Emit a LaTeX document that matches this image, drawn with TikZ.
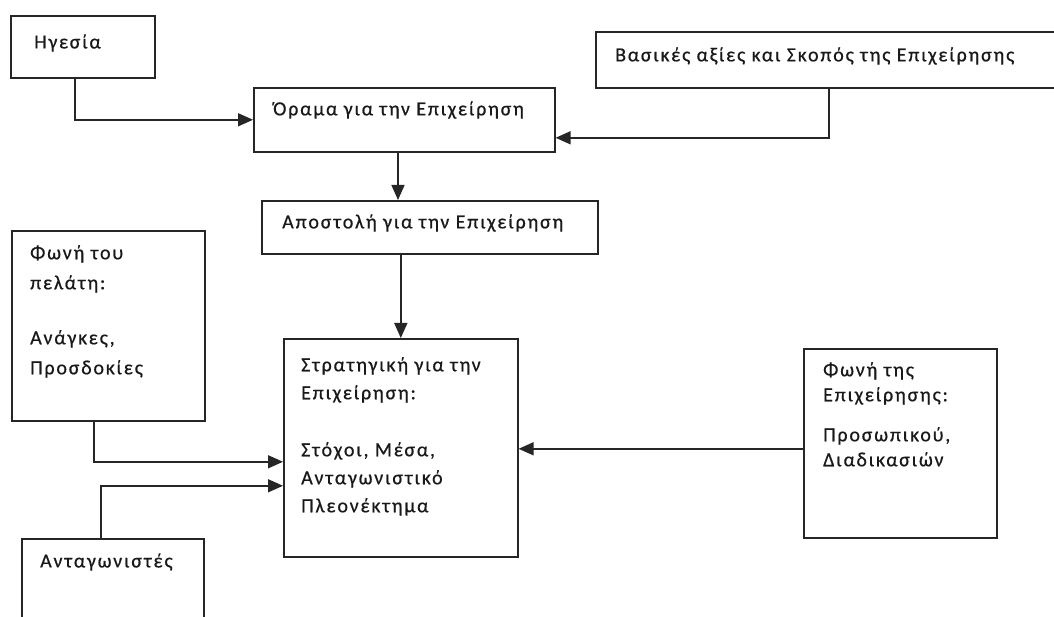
\documentclass[tikz,border=0pt]{standalone}
\usepackage{fontspec}
\setmainfont{Carlito}[LetterSpace=9,FakeBold=0.6]
\usetikzlibrary{arrows.meta}
\begin{document}
\begin{tikzpicture}[x=1pt,y=-1pt,
  box/.style={draw=black!85, line width=1.6pt, inner sep=0pt, anchor=north west},
  txt/.style={inner sep=0pt, text=black!90, font=\fontsize{20}{28}\selectfont},
  mtxt/.style={txt, anchor=north west, align=left},
  arr/.style={draw=black!85, line width=1.5pt, -{Triangle[length=15pt,width=13pt]}}]
\useasboundingbox (0,0) rectangle (1054,617);
\clip (0,0) rectangle (1054,617);
\fill[white] (0,0) rectangle (1054,617);
% boxes
\node[box, minimum width=144pt, minimum height=62pt] (hg) at (10,15) {};
\node[box, minimum width=301pt, minimum height=64pt] (orama) at (253,87) {};
\node[box, minimum width=480pt, minimum height=56pt] (bas) at (595,31) {};
\node[box, minimum width=336pt, minimum height=53pt] (apost) at (261,200) {};
\node[box, minimum width=193pt, minimum height=190pt] (pel) at (11,230) {};
\node[box, minimum width=234pt, minimum height=218pt] (strat) at (283,338) {};
\node[box, minimum width=193pt, minimum height=189pt] (fep) at (803,348) {};
\node[box, minimum width=182pt, minimum height=110pt] (ant) at (21,538) {};
% texts
\node[txt, anchor=west] (thg) at (34,43) {Ηγεσία};
\node[txt, anchor=west] (torama) at (273,110) {Όραμα για την Επιχείρηση};
\node[txt, anchor=west] (tbas) at (615,56) {Βασικές αξίες και Σκοπός της Επιχείρησης};
\node[txt, anchor=west] (tapost) at (282,223) {Αποστολή για την Επιχείρηση};
\node[txt, anchor=west] (tant) at (40,562) {Ανταγωνιστές};
\node[mtxt, font=\fontsize{20}{30}\selectfont] (tpel) at (30,245) {Φωνή του\\ πελάτη:\\[25pt] Ανάγκες,\\ Προσδοκίες};
\node[mtxt] (tstrat) at (301,357) {Στρατηγική για την\\ Επιχείρηση:\\[29pt] Στόχοι, Μέσα,\\ Ανταγωνιστικό\\ Πλεονέκτημα};
\node[mtxt, font=\fontsize{20}{25}\selectfont] (tfep) at (823,362) {Φωνή της\\ Επιχείρησης:\\[15pt] Προσωπικού,\\ Διαδικασιών};
% connectors
\draw[arr] ([xshift=65pt]hg.south west) |- (orama.west);
\draw[arr] ([xshift=234pt]bas.south west) |- ([yshift=-18pt]orama.east);
\draw[arr] ([xshift=145pt]orama.south west) coordinate (o1) -- (o1 |- apost.north);
\draw[arr] (apost.south -| strat.north) -- (strat.north);
\draw[arr] ([xshift=83pt]pel.south west) |- ([yshift=-14pt]strat.west);
\draw[arr] ([xshift=80pt]ant.north west) |- ([yshift=-38pt]strat.west);
\draw[arr] ([yshift=-5.5pt]fep.west) coordinate (f1) -- (f1 -| strat.east);
\end{tikzpicture}
\end{document}
